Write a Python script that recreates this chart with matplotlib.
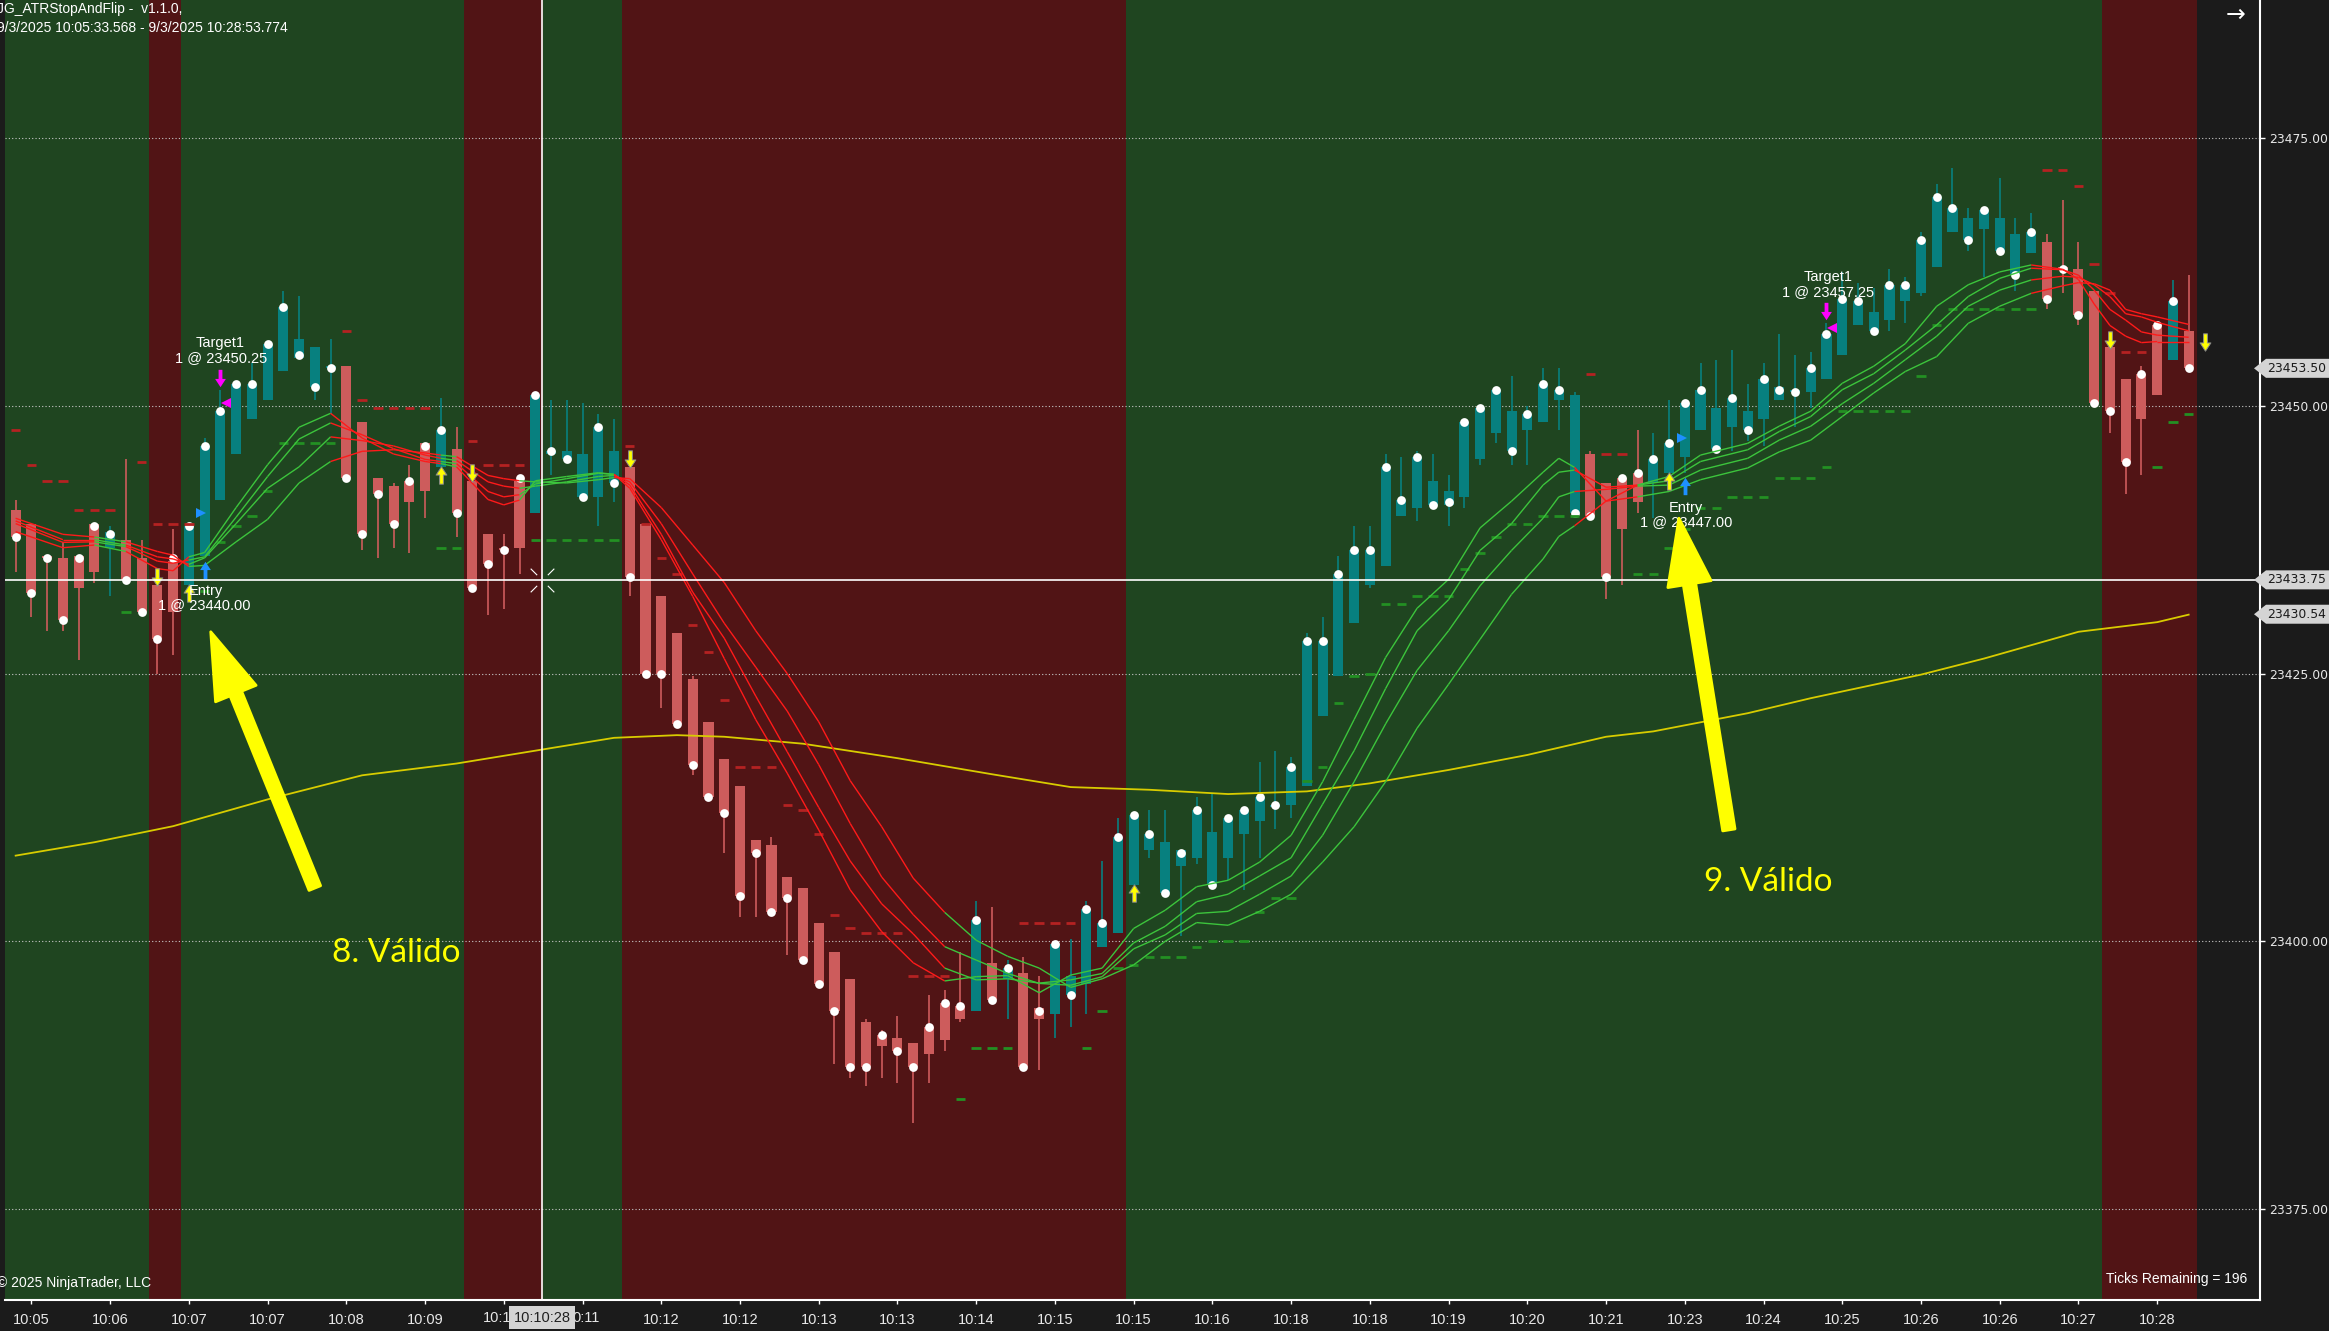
import numpy as np
import matplotlib
matplotlib.use("Agg")
import matplotlib.pyplot as plt
import matplotlib.transforms as mtransforms
from matplotlib.collections import LineCollection
from matplotlib.patches import Polygon
from matplotlib.path import Path

# ---------------- data ----------------
opens = [
23440.25, 23439.0, 23436.0, 23435.75, 23436.0, 23439.0, 23436.75, 23437.5, 23435.75, 23433.25,
23435.5, 23433.25, 23436.0, 23441.25, 23445.5, 23448.75, 23450.5, 23453.25, 23454.5, 23451.75,
23453.5, 23453.75, 23448.5, 23443.25, 23442.5, 23443.0, 23446.5, 23444.25, 23446.0, 23443.0,
23438.0, 23436.75, 23443.0, 23440.0, 23445.5, 23445.0, 23441.5, 23441.5, 23442.75, 23444.25,
23439.0, 23432.25, 23428.75, 23424.5, 23420.5, 23417.0, 23414.5, 23409.5, 23409.0, 23406.0,
23405.0, 23401.75, 23399.0, 23396.5, 23392.5, 23391.25, 23391.0, 23390.5, 23392.0, 23394.25,
23394.0, 23393.5, 23398.0, 23396.5, 23397.0, 23393.75, 23393.25, 23395.0, 23396.0, 23399.5,
23400.75, 23405.25, 23408.5, 23404.5, 23407.0, 23407.75, 23405.25, 23407.75, 23410.0, 23411.25,
23412.5, 23412.75, 23414.5, 23421.0, 23424.75, 23429.75, 23433.25, 23435.0, 23439.75, 23440.5,
23440.75, 23440.75, 23441.5, 23445.0, 23447.5, 23445.75, 23447.75, 23448.5, 23450.5, 23440.0,
23445.5, 23442.75, 23443.25, 23443.75, 23442.75, 23443.75, 23445.25, 23447.75, 23446.0, 23448.0,
23447.75, 23448.75, 23450.5, 23451.25, 23451.25, 23452.5, 23454.75, 23457.5, 23457.0, 23458.0,
23459.75, 23460.5, 23463.0, 23466.25, 23465.5, 23466.5, 23464.5, 23462.25, 23464.25, 23465.25,
23463.0, 23462.75, 23460.75, 23455.5, 23452.5, 23453.0, 23457.5, 23454.25, 23457.0]

highs = [
23441.25, 23439.0, 23436.0, 23437.25, 23436.0, 23439.0, 23438.75, 23445.0, 23437.5, 23433.25,
23438.5, 23438.75, 23447.0, 23451.5, 23452.0, 23454.0, 23455.75, 23460.75, 23460.25, 23455.5,
23456.25, 23453.75, 23448.5, 23443.25, 23442.75, 23444.5, 23446.5, 23450.75, 23448.0, 23443.0,
23438.0, 23438.0, 23443.0, 23451.0, 23450.5, 23450.5, 23450.25, 23449.25, 23448.75, 23444.25,
23439.0, 23432.25, 23428.75, 23424.75, 23420.5, 23417.0, 23414.5, 23409.5, 23409.75, 23406.0,
23405.0, 23401.75, 23399.0, 23396.5, 23392.75, 23391.75, 23393.0, 23390.5, 23395.0, 23395.5,
23399.0, 23403.75, 23403.25, 23398.25, 23398.5, 23396.75, 23399.75, 23400.25, 23403.75, 23407.5,
23411.5, 23411.75, 23412.25, 23412.25, 23408.5, 23413.5, 23413.75, 23411.5, 23412.25, 23416.75,
23417.75, 23417.25, 23428.75, 23430.25, 23436.0, 23438.75, 23438.75, 23445.5, 23445.25, 23445.75,
23445.5, 23443.5, 23448.75, 23449.75, 23451.5, 23452.75, 23450.0, 23453.5, 23453.5, 23451.25,
23445.75, 23442.75, 23443.25, 23447.75, 23447.5, 23450.5, 23450.25, 23454.0, 23454.25, 23455.25,
23452.0, 23454.0, 23456.75, 23454.75, 23455.0, 23457.75, 23462.5, 23461.5, 23461.0, 23462.75,
23462.0, 23466.25, 23470.75, 23472.25, 23468.5, 23468.25, 23471.25, 23467.5, 23468.0, 23466.0,
23469.25, 23465.25, 23460.75, 23455.5, 23452.5, 23453.75, 23457.5, 23461.75, 23462.25]

lows = [
23434.5, 23430.25, 23429.0, 23429.0, 23426.25, 23433.5, 23432.25, 23433.75, 23430.75, 23425.0,
23426.75, 23433.25, 23436.0, 23441.25, 23445.5, 23448.75, 23450.5, 23453.25, 23454.5, 23450.5,
23449.25, 23443.25, 23436.5, 23435.75, 23436.75, 23436.25, 23439.5, 23444.25, 23437.75, 23433.0,
23430.5, 23431.0, 23434.25, 23440.0, 23443.5, 23445.0, 23441.5, 23438.75, 23441.0, 23432.25,
23425.0, 23421.75, 23420.25, 23415.5, 23413.5, 23408.25, 23402.25, 23402.25, 23402.75, 23398.75,
23398.25, 23396.0, 23388.5, 23387.25, 23386.5, 23387.25, 23386.75, 23383.0, 23386.75, 23389.75,
23392.5, 23393.5, 23394.5, 23392.75, 23388.25, 23388.0, 23391.0, 23392.0, 23393.25, 23399.5,
23400.75, 23405.25, 23407.75, 23404.5, 23400.5, 23407.25, 23405.25, 23405.75, 23404.75, 23407.75,
23410.5, 23411.5, 23414.5, 23421.0, 23424.75, 23429.75, 23433.0, 23435.0, 23439.75, 23439.25,
23440.75, 23438.75, 23440.5, 23444.5, 23446.5, 23444.5, 23444.5, 23448.5, 23447.75, 23440.0,
23439.75, 23432.0, 23433.25, 23440.0, 23439.5, 23443.75, 23443.75, 23447.75, 23446.0, 23445.75,
23446.75, 23446.25, 23450.5, 23448.0, 23449.75, 23452.5, 23454.75, 23457.5, 23457.0, 23457.0,
23457.75, 23460.25, 23463.0, 23466.25, 23464.5, 23462.0, 23464.5, 23460.75, 23464.25, 23459.0,
23460.5, 23457.5, 23450.25, 23447.5, 23441.75, 23443.5, 23451.0, 23454.25, 23453.5]

closes = [
23437.75, 23432.5, 23435.75, 23430.0, 23433.0, 23434.5, 23438.25, 23433.75, 23430.75, 23428.25,
23430.75, 23438.75, 23446.25, 23449.5, 23452.0, 23452.0, 23455.75, 23459.25, 23456.25, 23455.5,
23453.75, 23443.25, 23438.0, 23441.75, 23439.0, 23441.0, 23442.0, 23447.75, 23440.0, 23433.0,
23435.25, 23436.5, 23436.75, 23451.0, 23445.75, 23445.75, 23445.5, 23448.0, 23445.75, 23434.0,
23425.0, 23425.0, 23420.25, 23416.5, 23413.5, 23412.0, 23404.25, 23408.25, 23402.75, 23404.0,
23398.25, 23396.0, 23393.5, 23388.25, 23388.25, 23390.25, 23389.75, 23388.25, 23389.5, 23390.75,
23392.75, 23402.0, 23394.5, 23397.5, 23388.25, 23392.75, 23399.75, 23396.75, 23403.0, 23401.75,
23409.75, 23411.75, 23410.0, 23409.25, 23408.5, 23412.25, 23410.25, 23411.5, 23412.25, 23413.5,
23412.75, 23416.25, 23428.0, 23428.0, 23434.25, 23436.5, 23436.5, 23444.25, 23441.25, 23445.25,
23443.0, 23442.0, 23448.5, 23449.75, 23451.5, 23449.5, 23449.25, 23452.0, 23451.5, 23451.0,
23439.75, 23434.0, 23438.5, 23441.0, 23445.0, 23446.5, 23450.25, 23451.5, 23449.75, 23450.75,
23449.5, 23452.5, 23451.75, 23451.5, 23453.5, 23456.75, 23460.0, 23459.75, 23458.75, 23461.25,
23461.25, 23465.5, 23469.5, 23468.5, 23467.5, 23468.25, 23467.5, 23466.0, 23466.25, 23460.0,
23462.75, 23458.5, 23450.25, 23449.5, 23444.75, 23448.75, 23451.0, 23459.75, 23453.5]

close_dots = [
23437.75, 23432.5, 23435.75, 23430.0, 23435.75, 23438.75, 23438.0, 23433.75, 23430.75, 23428.25,
23435.75, 23438.75, 23446.25, 23449.5, 23452.0, 23452.0, 23455.75, 23459.25, 23454.75, 23451.75,
23453.5, 23443.25, 23438.0, 23441.75, 23439.0, 23443.0, 23446.25, 23447.75, 23440.0, 23433.0,
23435.25, 23436.5, 23443.25, 23451.0, 23445.75, 23445.0, 23441.5, 23448.0, 23442.75, 23434.0,
23425.0, 23425.0, 23420.25, 23416.5, 23413.5, 23412.0, 23404.25, 23408.25, 23402.75, 23404.0,
23398.25, 23396.0, 23393.5, 23388.25, 23388.25, 23391.25, 23389.75, 23388.25, 23392.0, 23394.25,
23394.0, 23402.0, 23394.5, 23397.5, 23388.25, 23393.5, 23399.75, 23395.0, 23403.0, 23401.75,
23409.75, 23411.75, 23410.0, 23404.5, 23408.25, 23412.25, 23405.25, 23411.5, 23412.25, 23413.5,
23412.75, 23416.25, 23428.0, 23428.0, 23434.25, 23436.5, 23436.5, 23444.25, 23441.25, 23445.25,
23440.75, 23441.0, 23448.5, 23449.75, 23451.5, 23445.75, 23449.25, 23452.0, 23451.5, 23440.0,
23439.75, 23434.0, 23443.25, 23443.75, 23445.0, 23446.5, 23450.25, 23451.5, 23446.0, 23450.75,
23447.75, 23452.5, 23451.5, 23451.25, 23453.5, 23456.75, 23460.0, 23459.75, 23457.0, 23461.25,
23461.25, 23465.5, 23469.5, 23468.5, 23465.5, 23468.25, 23464.5, 23462.25, 23466.25, 23460.0,
23462.75, 23458.5, 23450.25, 23449.5, 23444.75, 23453.0, 23457.5, 23459.75, 23453.5]

# ATR stop dashes (one per bar) and side: R = short stop (above), G = long stop (below)
stop_vals = [
23447.75, 23444.5, 23443.0, 23443.0, 23440.25, 23440.25, 23440.25, 23430.75, 23444.75, 23439.0,
23439.0, 23439.0, 23432.75, 23437.25, 23438.75, 23439.75, 23442.0, 23446.5, 23446.5, 23446.5,
23446.5, 23457.0, 23450.5, 23449.75, 23449.75, 23449.75, 23449.75, 23436.75, 23436.75, 23446.75,
23444.5, 23444.5, 23444.5, 23437.5, 23437.5, 23437.5, 23437.5, 23437.5, 23437.5, 23446.25,
23439.0, 23435.75, 23434.25, 23429.5, 23427.0, 23422.5, 23416.25, 23416.25, 23416.25, 23412.75,
23412.25, 23410.0, 23402.5, 23401.25, 23400.75, 23400.75, 23400.75, 23396.75, 23396.75, 23396.75,
23385.25, 23390.0, 23390.0, 23390.0, 23401.75, 23401.75, 23401.75, 23401.75, 23390.0, 23393.5,
23397.5, 23397.75, 23398.5, 23398.5, 23398.5, 23399.5, 23400.0, 23400.0, 23400.0, 23402.75,
23404.0, 23404.0, 23415.0, 23416.25, 23422.25, 23424.75, 23425.0, 23431.5, 23431.5, 23432.25,
23432.25, 23432.25, 23434.75, 23436.25, 23437.75, 23439.0, 23439.0, 23439.75, 23439.75, 23439.75,
23453.0, 23445.5, 23445.5, 23434.25, 23434.25, 23436.75, 23438.5, 23440.5, 23440.5, 23441.5,
23441.5, 23441.5, 23443.25, 23443.25, 23443.25, 23444.25, 23449.5, 23449.5, 23449.5, 23449.5,
23449.5, 23452.75, 23457.5, 23459.0, 23459.0, 23459.0, 23459.0, 23459.0, 23459.0, 23472.0,
23472.0, 23470.5, 23463.25, 23460.5, 23455.0, 23455.0, 23444.25, 23448.5, 23449.25]
stop_side = ("RRRRRRRGRR" "RRGGGGGGGG" "GRRRRRRGGR" "RRRGGGGGGR" "RRRRRRRRRR"
             "RRRRRRRRRR" "GGGGRRRRGG" "GGGGGGGGGG" "GGGGGGGGGG" "GGGGGGGGGG"
             "RRRGGGGGGG" "GGGGGGGGGG" "GGGGGGGGGR" "RRRRRRGGG")

# moving-average ribbon (4 lines), read at these bars
rib_bars = [0, 3, 5, 7, 9, 10, 11, 12, 14, 16, 18, 20, 22, 24, 26, 27, 28, 30, 31, 32,
            33, 35, 37, 38, 39, 41, 43, 45, 47, 49, 51, 53, 55, 57, 59, 61, 63, 65, 67, 69,
            71, 73, 75, 77, 79, 81, 83, 85, 87, 89, 91, 93, 95, 97, 98, 99, 101, 103, 105, 107,
            110, 112, 114, 116, 118, 120, 122, 124, 126, 128, 130, 131, 132, 133, 134, 135, 136, 138]
rib_1 = [23438.25, 23436.75, 23437.0, 23436.4, 23434.8, 23434.6, 23435.9, 23436.3, 23440.5, 23444.5,
         23448.0, 23449.3, 23447.0, 23445.5, 23444.8, 23444.6, 23444.3, 23441.25, 23440.75, 23441.2,
         23443.0, 23443.4, 23443.75, 23443.6, 23442.3, 23437.5, 23432.2, 23426.4, 23420.7, 23415.7,
         23410.4, 23404.8, 23400.9, 23398.0, 23396.3, 23396.7, 23396.8, 23395.2, 23396.85, 23397.5,
         23401.2, 23402.9, 23405.1, 23405.7, 23407.4, 23409.9, 23414.9, 23420.7, 23426.5, 23431.1,
         23433.8, 23438.6, 23441.1, 23443.8, 23445.1, 23444.25, 23441.1, 23442.6, 23443.4, 23445.4,
         23446.5, 23448.1, 23449.5, 23452.1, 23453.7, 23455.8, 23459.3, 23461.3, 23462.5, 23463.15,
         23462.75, 23461.8, 23459.5, 23457.5, 23456.5, 23455.9, 23456.0, 23456.0]
rib_2 = [23439.0, 23437.25, 23437.3, 23436.85, 23435.5, 23435.3, 23435.6, 23435.9, 23439.6, 23443.4,
         23446.9, 23448.4, 23447.3, 23446.0, 23445.0, 23444.8, 23444.6, 23442.0, 23441.5, 23441.7,
         23442.7, 23443.2, 23443.7, 23443.6, 23442.6, 23438.0, 23432.6, 23428.3, 23422.9, 23417.7,
         23412.5, 23407.5, 23403.5, 23400.7, 23397.5, 23396.4, 23396.5, 23396.1, 23396.4, 23397.0,
         23399.85, 23401.4, 23403.7, 23404.4, 23406.1, 23407.8, 23412.8, 23417.8, 23423.6, 23429.0,
         23431.9, 23436.5, 23439.0, 23442.6, 23443.8, 23444.0, 23442.4, 23442.6, 23443.0, 23444.8,
         23445.9, 23447.6, 23449.0, 23451.5, 23453.0, 23455.2, 23457.55, 23460.2, 23461.9, 23462.85,
         23462.7, 23462.2, 23460.8, 23459.0, 23458.0, 23456.9, 23456.6, 23456.4]
rib_3 = [23439.25, 23437.5, 23437.5, 23437.0, 23435.9, 23435.7, 23435.2, 23435.8, 23439.0, 23442.3,
         23444.3, 23447.1, 23446.75, 23446.25, 23445.4, 23445.1, 23444.9, 23442.9, 23442.5, 23442.3,
         23442.5, 23442.9, 23443.4, 23443.5, 23442.9, 23439.0, 23434.3, 23429.7, 23425.6, 23421.5,
         23416.5, 23411.0, 23406.0, 23402.5, 23399.5, 23398.25, 23397.0, 23396.07, 23395.9, 23396.7,
         23399.3, 23400.6, 23402.6, 23402.8, 23404.4, 23406.1, 23409.9, 23414.9, 23420.3, 23425.3,
         23429.0, 23433.2, 23436.5, 23439.5, 23441.5, 23442.0, 23442.2, 23442.5, 23442.6, 23444.0,
         23445.1, 23446.8, 23448.1, 23450.2, 23452.1, 23454.3, 23456.5, 23459.3, 23460.8, 23461.75,
         23462.1, 23462.0, 23461.3, 23460.2, 23458.6, 23458.3, 23457.8, 23457.0]
rib_4 = [23439.5, 23438.0, 23437.75, 23437.3, 23436.4, 23436.05, 23435.0, 23435.1, 23437.3, 23439.4,
         23442.8, 23444.8, 23445.75, 23445.9, 23445.6, 23445.4, 23445.25, 23443.5, 23443.2, 23443.0,
         23442.9, 23442.8, 23443.1, 23443.3, 23443.2, 23440.5, 23437.0, 23433.5, 23429.0, 23425.0,
         23420.5, 23415.0, 23410.7, 23405.9, 23402.7, 23400.1, 23398.6, 23397.5, 23395.7, 23396.5,
         23397.8, 23400.0, 23401.75, 23401.5, 23402.8, 23404.4, 23407.4, 23410.7, 23414.9, 23419.9,
         23424.0, 23428.2, 23432.4, 23435.7, 23437.8, 23438.8, 23441.1, 23441.5, 23442.0, 23443.1,
         23444.2, 23445.7, 23446.8, 23449.0, 23451.2, 23453.2, 23454.6, 23457.7, 23459.3, 23460.5,
         23461.2, 23461.5, 23461.4, 23460.8, 23459.0, 23458.6, 23458.3, 23457.6]
rib_green_ranges = [(5, 7), (11, 20), (27, 28), (32, 38.4), (60, 99), (103, 128.5)]

# slow moving average (yellow)
sma_bars = [0, 5, 10, 16, 22, 28, 33, 38, 42, 45, 50, 56, 62, 67, 72, 77, 82, 86, 91, 96,
            101, 104, 110, 114, 121, 125, 131, 136, 138]
sma_vals = [23408.0, 23409.25, 23410.75, 23413.25, 23415.5, 23416.6, 23417.8, 23419.0, 23419.25, 23419.1,
            23418.45, 23417.1, 23415.6, 23414.4, 23414.15, 23413.75, 23414.0, 23414.75, 23416.0, 23417.4,
            23419.1, 23419.6, 23421.3, 23422.7, 23424.9, 23426.4, 23428.9, 23429.8, 23430.5]

# trend background zones (bar ranges shaded red; rest green up to last bar)
red_zones = [(8.5, 10.5), (28.5, 33.5), (38.5, 70.5), (132.5, 138.5)]

# signal markers
flip_down = [(9, 23434.0), (29, 23443.75), (39, 23445.0), (133, 23456.15), (139.05, 23456.0)]
flip_up = [(11, 23432.5), (27, 23443.55), (71, 23404.55), (105, 23443.0)]
entry_arrows = [(12, 23434.7), (106, 23442.5)]
target_arrows = [(13, 23452.6), (115, 23458.85)]
entry_fills = [(11.75, 23440.0), (105.8, 23447.0)]
target_fills = [(13.35, 23450.25), (115.35, 23457.25)]

order_labels = [("Target1", 13.0, 23455.85), ("1 @ 23450.25", 13.05, 23454.45),
                ("Entry", 12.05, 23432.7), ("1 @ 23440.00", 12.0, 23431.4),
                ("Target1", 115.1, 23462.05), ("1 @ 23457.25", 115.1, 23460.65),
                ("Entry", 106.05, 23440.5), ("1 @ 23447.00", 106.1, 23439.15)]

notes = [("8. Válido", 20.1, 23398.9), ("9. Válido", 107.2, 23405.5)]
note_arrows = [((19.0, 23404.97), (12.39, 23428.9)), ((108.8, 23410.4), (105.63, 23439.5))]

time_tick_bars = list(range(1, 137, 5))
time_tick_labels = ["10:05", "10:06", "10:07", "10:07", "10:08", "10:09", "10:10", "10:11",
                    "10:12", "10:12", "10:13", "10:13", "10:14", "10:15", "10:15", "10:16",
                    "10:18", "10:18", "10:19", "10:20", "10:21", "10:23", "10:24", "10:25",
                    "10:26", "10:26", "10:27", "10:28"]
price_ticks = [23375.0, 23400.0, 23425.0, 23450.0, 23475.0]
price_flags = [23453.50, 23433.75, 23430.54]

crosshair_bar = 33.43
crosshair_price = 23433.75
crosshair_time = "10:10:28"

title_line1 = "JG_ATRStopAndFlip -  v1.1.0,"
title_line2 = "9/3/2025 10:05:33.568 - 9/3/2025 10:28:53.774"
copyright_text = "© 2025 NinjaTrader, LLC"
ticks_text = "Ticks Remaining = 196"

# ---------------- style ----------------
BG = "#1b1b1b"
GREEN_BG = "#1f4520"
RED_BG = "#511415"
UP = "#07807f"
DOWN = "#cd5c5c"
RIB_RED = "#ff1a1a"
RIB_GREEN = "#3cc43c"
STOP_RED = "#b42222"
STOP_GREEN = "#239023"
SMA_COLOR = "#d8cc00"
NARROW = ["Liberation Sans Narrow", "Liberation Sans", "DejaVu Sans"]
AXIS_FS = 8.9

W_PX, H_PX = 2329, 1331
fig = plt.figure(figsize=(W_PX / 100, H_PX / 100), dpi=100)
fig.patch.set_facecolor(BG)
ax_l, ax_r, ax_b, ax_t = 5, 2260, 31, 1331
ax = fig.add_axes([ax_l / W_PX, ax_b / H_PX, (ax_r - ax_l) / W_PX, (ax_t - ax_b) / H_PX])
ax.set_facecolor(BG)

XMIN, XMAX = -0.676, 142.53
YMIN, YMAX = 23366.51, 23487.89
ax.set_xlim(XMIN, XMAX)
ax.set_ylim(YMIN, YMAX)
unit_per_px = (YMAX - YMIN) / (ax_t - ax_b)
bar_per_px = (XMAX - XMIN) / (ax_r - ax_l)

n = len(opens)
x = np.arange(n)
o = np.array(opens); h = np.array(highs); l = np.array(lows); c = np.array(closes)

# backgrounds
last_edge = n - 0.5
ax.axvspan(XMIN, last_edge, color=GREEN_BG, zorder=0.1, lw=0)
for a, b in red_zones:
    ax.axvspan(a, b, color=RED_BG, zorder=0.2, lw=0)

# grid
ax.set_yticks(price_ticks)
ax.grid(axis="y", color="#c8c8c8", linestyle=(0, (1, 2)), linewidth=0.8, zorder=0.5)
ax.set_axisbelow(True)

# candles
up = c >= o
cols = np.where(up, UP, DOWN)
ax.vlines(x, l, h, colors=cols, linewidth=1.2, zorder=2)
body_lo = np.minimum(o, c)
body_h = np.maximum(np.abs(c - o), 0.22)
ax.bar(x, body_h, bottom=body_lo, width=0.64, color=cols, linewidth=0, zorder=2.2)
ax.scatter(x, close_dots, s=40, c="white", linewidths=0, zorder=2.5)

# ATR stop dashes
stop_cols = [STOP_RED if s == "R" else STOP_GREEN for s in stop_side]
ax.hlines(stop_vals, x - 0.3, x + 0.3, colors=stop_cols, linewidth=2.0, zorder=3)

# slow SMA
ax.plot(sma_bars, sma_vals, color=SMA_COLOR, linewidth=1.3, zorder=3.2)

# ribbon
def ribbon(vals):
    segs, cs = [], []
    for k in range(len(rib_bars) - 1):
        x0, x1 = rib_bars[k], rib_bars[k + 1]
        mid = 0.5 * (x0 + x1)
        g = any(a <= mid <= b for a, b in rib_green_ranges)
        segs.append([(x0, vals[k]), (x1, vals[k + 1])])
        cs.append(RIB_GREEN if g else RIB_RED)
    return segs, cs

for vals in (rib_1, rib_2, rib_3, rib_4):
    segs, cs = ribbon(vals)
    ax.add_collection(LineCollection(segs, colors=cs, linewidths=1.0, zorder=3.4))

# signal arrows (block arrows)
up_arrow = Path([(-0.22, -1), (0.22, -1), (0.22, 0.05), (0.62, 0.05), (0, 1),
                 (-0.62, 0.05), (-0.22, 0.05), (-0.22, -1)], closed=True)
down_arrow = Path([(vx, -vy) for vx, vy in up_arrow.vertices], closed=True)
for bx, by in flip_down:
    ax.plot(bx, by, marker=down_arrow, markersize=12.5, color="#ffff00",
            markeredgecolor="#8a8a8a", markeredgewidth=0.7, zorder=4, clip_on=False)
for bx, by in flip_up:
    ax.plot(bx, by, marker=up_arrow, markersize=12.5, color="#ffff00",
            markeredgecolor="#8a8a8a", markeredgewidth=0.7, zorder=4)
for bx, by in entry_arrows:
    ax.plot(bx, by, marker=up_arrow, markersize=12.5, color="#1e90ff",
            markeredgewidth=0, zorder=4)
for bx, by in target_arrows:
    ax.plot(bx, by, marker=down_arrow, markersize=12.5, color="#ff00ff",
            markeredgewidth=0, zorder=4)
for bx, by in entry_fills:
    ax.plot(bx, by, marker=">", markersize=6.5, color="#1e90ff", markeredgewidth=0, zorder=4)
for bx, by in target_fills:
    ax.plot(bx, by, marker="<", markersize=6.5, color="#ff00ff", markeredgewidth=0, zorder=4)

for txt, bx, by in order_labels:
    ax.text(bx, by, txt, color="white", fontsize=10.5, family=NARROW,
            ha="center", va="center", zorder=5)

# big yellow annotation arrows and notes
for (tx, ty), (hx, hy) in note_arrows:
    ax.annotate("", xy=(hx, hy), xytext=(tx, ty),
                arrowprops=dict(arrowstyle="simple,head_length=1.6,head_width=1.05,tail_width=0.3",
                                mutation_scale=30, color="#ffff00", shrinkA=0, shrinkB=0,
                                linewidth=2, joinstyle="round", capstyle="round"),
                zorder=6)
for txt, bx, by in notes:
    ax.text(bx, by, txt, color="#ffff00", fontsize=24, family=["Lato", "DejaVu Sans"],
            ha="left", va="center", zorder=6)

# crosshair
ax.axvline(crosshair_bar, color="white", linewidth=1.2, zorder=5)
ax.axhline(crosshair_price, color="white", linewidth=1.2, zorder=5)
cross_path = Path([(-1, -1), (-0.45, -0.45), (1, 1), (0.45, 0.45),
                   (-1, 1), (-0.45, 0.45), (1, -1), (0.45, -0.45)],
                  [Path.MOVETO, Path.LINETO] * 4)
ax.plot(crosshair_bar, crosshair_price, marker=cross_path, markersize=17,
        markerfacecolor="none", markeredgecolor="white", markeredgewidth=0.8, zorder=5)

# spines / axes
for s in ("top", "left"):
    ax.spines[s].set_visible(False)
for s in ("right", "bottom"):
    ax.spines[s].set_color("white")
    ax.spines[s].set_linewidth(1.5)
ax.yaxis.tick_right()
ax.set_yticklabels([f"{v:.2f}" for v in price_ticks])
ax.tick_params(axis="y", colors="white", length=3.6, width=1, pad=3, labelsize=AXIS_FS,
               labelcolor="#e8e8e8")

# time axis: labels hidden behind the crosshair time flag are shown only in part
flag_half = 30 * bar_per_px
shown_labels = []
partial = []
for tb, tl in zip(time_tick_bars, time_tick_labels):
    if abs(tb - crosshair_bar) < flag_half + 1.2:
        shown_labels.append("")
        partial.append((tb, tl))
    else:
        shown_labels.append(tl)
ax.set_xticks(time_tick_bars)
ax.set_xticklabels(shown_labels, family=NARROW)
ax.tick_params(axis="x", colors="white", length=3, width=1, pad=6, labelsize=10.5,
               labelcolor="#e8e8e8")
xt = ax.get_xaxis_transform()
for tb, tl in partial:
    if tb < crosshair_bar:
        ax.text(crosshair_bar - flag_half - 0.05, -0.0135, tl[:-1], transform=xt,
                color="#e8e8e8", fontsize=10.5, family=NARROW, ha="right", va="center",
                clip_on=False)
    else:
        ax.text(crosshair_bar + flag_half + 0.05, -0.0135, tl[1:], transform=xt,
                color="#e8e8e8", fontsize=10.5, family=NARROW, ha="left", va="center",
                clip_on=False)

# price flags on the right axis
tr_fy = mtransforms.blended_transform_factory(fig.transFigure, ax.transData)
hh = 9.5 * unit_per_px
for v in price_flags:
    poly = Polygon([(2254 / W_PX, v), (2266 / W_PX, v + hh), (1.0, v + hh),
                    (1.0, v - hh), (2266 / W_PX, v - hh)], closed=True,
                   facecolor="#d4d4d4", edgecolor="none", transform=tr_fy,
                   clip_on=False, zorder=10)
    fig.patches.append(poly)
    fig.text(2267.5 / W_PX, v, f"{v:.2f}", transform=tr_fy, color="#1a1a1a",
             fontsize=AXIS_FS, ha="left", va="center", zorder=11)

# crosshair time flag
ax.text(crosshair_bar, -0.0135, crosshair_time, transform=xt,
        color="#202020", fontsize=10.5, family=NARROW, ha="center", va="center",
        bbox=dict(boxstyle="square,pad=0.3", fc="#d4d4d4", ec="none"), zorder=10,
        clip_on=False)

# header / footer texts
fig.text(-0.0012, 1 - 9 / H_PX, title_line1, color="white", fontsize=10, family=NARROW,
         ha="left", va="center")
fig.text(-0.0012, 1 - 28 / H_PX, title_line2, color="white", fontsize=10, family=NARROW,
         ha="left", va="center")
fig.text(-0.0012, 1 - 1283 / H_PX, copyright_text, color="white", fontsize=10, family=NARROW,
         ha="left", va="center")
ax.text(0.9945, (1300 - 1279) / 1300, ticks_text, transform=ax.transAxes, color="white",
        fontsize=10, family=NARROW, ha="right", va="center", zorder=6)
fig.text(2236 / W_PX, 1 - 15 / H_PX, "→", color="white", fontsize=17, ha="center",
         va="center")

fig.savefig("out.png", dpi=100, facecolor=BG)
